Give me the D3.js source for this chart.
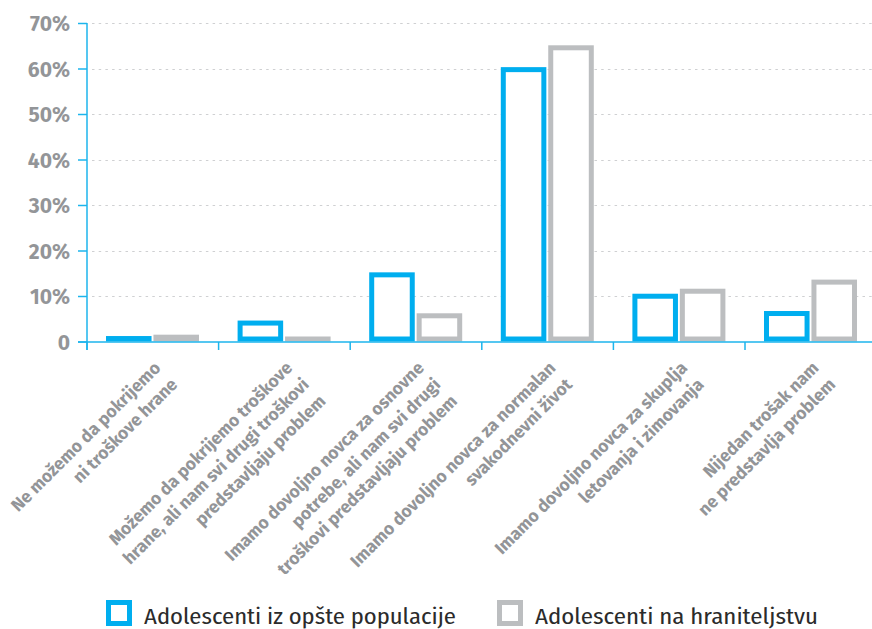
<!DOCTYPE html>
<html>
<head>
<meta charset="utf-8">
<script src="https://cdn.jsdelivr.net/npm/d3@7"></script>
<style>
	body { margin: 0; background: #fff; }
	svg { display: block; }
	.tick-label { font-family: "Fira Sans", "Noto Sans", sans-serif; font-weight: 700; fill: #939598; }
	.legend-label { font-family: "Fira Sans Condensed", Roboto, sans-serif; fill: #2b2b2b; }
</style>
</head>
<body>
<div id="chart"></div>
<script>
// categories (x axis), each label split into its lines
var categories = ["c1", "c2", "c3", "c4", "c5", "c6"];
var categoryLines = [
	["Ne možemo da pokrijemo", "ni troškove hrane"],
	["Možemo da pokrijemo troškove", "hrane, ali nam svi drugi troškovi", "predstavljaju problem"],
	["Imamo dovoljno novca za osnovne", "potrebe, ali nam svi drugi", "troškovi predstavljaju problem"],
	["Imamo dovoljno novca za normalan", "svakodnevni život"],
	["Imamo dovoljno novca za skuplja", "letovanja i zimovanja"],
	["Nijedan trošak nam", "ne predstavlja problem"]
];

// series values, in %
var seriesNames = ["Adolescenti iz opšte populacije", "Adolescenti na hraniteljstvu"];
var generalPopulation = [1.2, 4.6, 15.2, 60.3, 10.5, 6.7];
var fosterCare = [1.5, 1.1, 6.2, 65.1, 11.6, 13.6];
var seriesColors = ["#00aeef", "#bcbec0"];

// y ticks
var yTicks = [0, 10, 20, 30, 40, 50, 60, 70];
var yTickLabels = ["0", "10%", "20%", "30%", "40%", "50%", "60%", "70%"];

var WIDTH = 872;
var HEIGHT = 629;
var AXIS_COLOR = "#1cb5ec";
var BAR_STROKE = 5;

var series = [generalPopulation, fosterCare];

var svg = d3.select("#chart").append("svg")
	.attr("width", WIDTH)
	.attr("height", HEIGHT);

var y = d3.scaleLinear().domain([0, 70]).range([341.5, 23]);
var x0 = d3.scaleBand().domain(categories).range([87, 876.6]);
var x1 = d3.scaleBand().domain(d3.range(series.length)).range([19, 112]).paddingInner(0.04);

// dotted grid lines
svg.append("g")
	.selectAll("line")
	.data(yTicks.filter(t => t > 0))
	.join("line")
	.attr("x1", 92)
	.attr("x2", WIDTH)
	.attr("y1", d => Math.round(y(d)) + 0.5)
	.attr("y2", d => Math.round(y(d)) + 0.5)
	.attr("stroke", "#cfd0d2")
	.attr("stroke-width", 1)
	.attr("stroke-dasharray", "2.5,4.2");

// bars: outlined boxes, solid when too short for the outline
var barGroups = svg.append("g")
	.selectAll("g")
	.data(categories)
	.join("g")
	.attr("transform", d => "translate(" + x0(d) + ",0)");

barGroups.each(function(c, ci) {
	var g = d3.select(this);
	series.forEach((values, si) => {
		var v = values[ci];
		var top = y(v);
		var h = y(0) - top;
		var bx = x1(si);
		var bw = x1.bandwidth();
		if (h < BAR_STROKE * 2 + 1) {
			g.append("rect")
				.attr("x", bx)
				.attr("y", top)
				.attr("width", bw)
				.attr("height", h)
				.attr("fill", seriesColors[si]);
		} else {
			g.append("rect")
				.attr("x", bx + BAR_STROKE / 2)
				.attr("y", top + BAR_STROKE / 2)
				.attr("width", bw - BAR_STROKE)
				.attr("height", h - BAR_STROKE)
				.attr("fill", "#fff")
				.attr("stroke", seriesColors[si])
				.attr("stroke-width", BAR_STROKE);
		}
	});
});

// y axis
var yAxis = svg.append("g")
	.attr("transform", "translate(87,0)")
	.call(d3.axisLeft(y).tickValues(yTicks).tickSize(9).tickFormat((d, i) => yTickLabels[i]));
yAxis.select(".domain").remove();
yAxis.selectAll(".tick line").attr("stroke", AXIS_COLOR).attr("stroke-width", 1.5);
yAxis.selectAll(".tick text")
	.attr("class", "tick-label")
	.attr("x", -17)
	.attr("dy", "0.36em")
	.attr("font-size", 21);
svg.append("line")
	.attr("x1", 87).attr("x2", 87)
	.attr("y1", y(70)).attr("y2", 350)
	.attr("stroke", AXIS_COLOR)
	.attr("stroke-width", 1.5);

// x axis line and category boundary ticks
svg.append("line")
	.attr("x1", 78).attr("x2", WIDTH)
	.attr("y1", 342).attr("y2", 342)
	.attr("stroke", AXIS_COLOR)
	.attr("stroke-width", 1.5);
svg.append("g")
	.selectAll("line")
	.data(categories)
	.join("line")
	.attr("x1", d => x0(d)).attr("x2", d => x0(d))
	.attr("y1", 342).attr("y2", 350)
	.attr("stroke", AXIS_COLOR)
	.attr("stroke-width", 1.5);

// rotated category labels
svg.append("g")
	.selectAll("text")
	.data(categories)
	.join("text")
	.attr("class", "tick-label")
	.attr("font-size", 17.5)
	.attr("text-anchor", "end")
	.attr("transform", d => "translate(" + (x0(d) + x0.bandwidth() / 2 + 9) + ",369) rotate(-45)")
	.each(function(d, i) {
		d3.select(this).selectAll("tspan")
			.data(categoryLines[i])
			.join("tspan")
			.attr("x", 0)
			.attr("y", (t, li) => li * 23.5)
			.text(t => t);
	});

// legend
var legendX = [106, 497];
var legendWidths = [312, 283];
var legend = svg.append("g")
	.selectAll("g")
	.data(seriesNames)
	.join("g")
	.attr("transform", (d, i) => "translate(" + legendX[i] + ",600)");
legend.append("rect")
	.attr("x", BAR_STROKE / 2)
	.attr("y", BAR_STROKE / 2)
	.attr("width", 26 - BAR_STROKE)
	.attr("height", 26 - BAR_STROKE)
	.attr("fill", "#fff")
	.attr("stroke", (d, i) => seriesColors[i])
	.attr("stroke-width", BAR_STROKE);
legend.append("text")
	.attr("class", "legend-label")
	.attr("x", 38)
	.attr("y", 23.5)
	.attr("font-size", 22)
	.attr("textLength", (d, i) => legendWidths[i])
	.attr("lengthAdjust", "spacingAndGlyphs")
	.text(d => d);
</script>
</body>
</html>
